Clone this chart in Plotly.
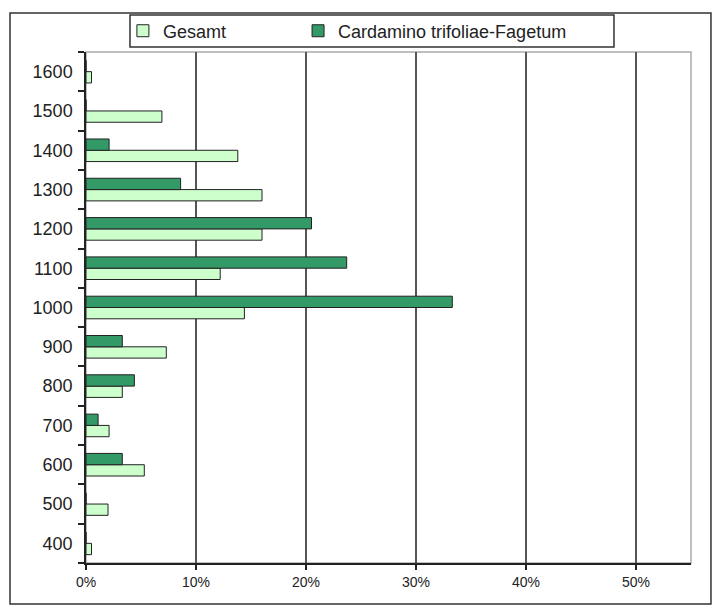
import plotly.graph_objects as go

categories = ["400", "500", "600", "700", "800", "900", "1000", "1100", "1200", "1300", "1400", "1500", "1600"]
gesamt = [0.5, 2.0, 5.3, 2.1, 3.3, 7.3, 14.4, 12.2, 16.0, 16.0, 13.8, 6.9, 0.5]
cardamino = [0, 0, 3.3, 1.1, 4.4, 3.3, 33.3, 23.7, 20.5, 8.6, 2.1, 0, 0]
x_ticks = [0, 10, 20, 30, 40, 50]
x_tick_labels = ["0%", "10%", "20%", "30%", "40%", "50%"]

fig = go.Figure()
fig.add_trace(go.Bar(
    y=categories, x=[v / 100 for v in gesamt], orientation="h", name="Gesamt",
    marker=dict(color="#ccffcc", line=dict(color="#222222", width=1)),
    legend="legend", showlegend=True,
))
fig.add_trace(go.Bar(
    y=categories, x=[v / 100 for v in cardamino], orientation="h", name="Cardamino trifoliae-Fagetum",
    marker=dict(color="#339966", line=dict(color="#222222", width=1)),
    legend="legend2", showlegend=True,
))

legend_common = dict(
    orientation="h", yanchor="middle", xanchor="left", y=1.041,
    borderwidth=0, bgcolor="rgba(0,0,0,0)", font=dict(size=18, color="#222222"),
    visible=True,
)

fig.update_layout(
    width=713, height=598,
    margin=dict(l=78, r=30, t=44, b=43, autoexpand=False),
    paper_bgcolor="white", plot_bgcolor="white",
    showlegend=True,
    barmode="group", bargap=0.425, bargroupgap=0,
    font=dict(family="Liberation Sans, Arial, sans-serif", color="#222222"),
    legend=dict(x=0.061, **legend_common),
    legend2=dict(x=0.3505, **legend_common),
    xaxis=dict(
        range=[0, 0.55], tickvals=[t / 100 for t in x_ticks], ticktext=x_tick_labels,
        showgrid=True, gridcolor="#555555", gridwidth=1.5,
        showline=True, linecolor="#222222", linewidth=1.5,
        ticks="outside", ticklen=5, tickcolor="#222222", tickwidth=1.5,
        tickfont=dict(size=14), zeroline=False, fixedrange=True,
    ),
    yaxis=dict(
        type="category", categoryorder="array", categoryarray=categories,
        range=[-0.5, 12.5], tickson="boundaries",
        showgrid=False, showline=True, linecolor="#222222", linewidth=1.5,
        ticks="outside", ticklen=6, tickcolor="#222222", tickwidth=1.5,
        tickfont=dict(size=18), ticklabelstandoff=8, fixedrange=True,
    ),
    shapes=[
        dict(type="rect", xref="paper", yref="paper", x0=0, x1=1, y0=0, y1=1,
             line=dict(color="#aaaaaa", width=1.5), layer="below"),
        dict(type="rect", xref="paper", yref="paper", x0=-0.1256, x1=1.033, y0=-0.08, y1=1.0763,
             line=dict(color="#333333", width=1.5), layer="below"),
        dict(type="rect", xref="paper", yref="paper", x0=0.0727, x1=0.8727, y0=1.0098, y1=1.0724,
             line=dict(color="#333333", width=1.5), fillcolor="white", layer="below"),
    ],
)

fig.write_html("out.html")
